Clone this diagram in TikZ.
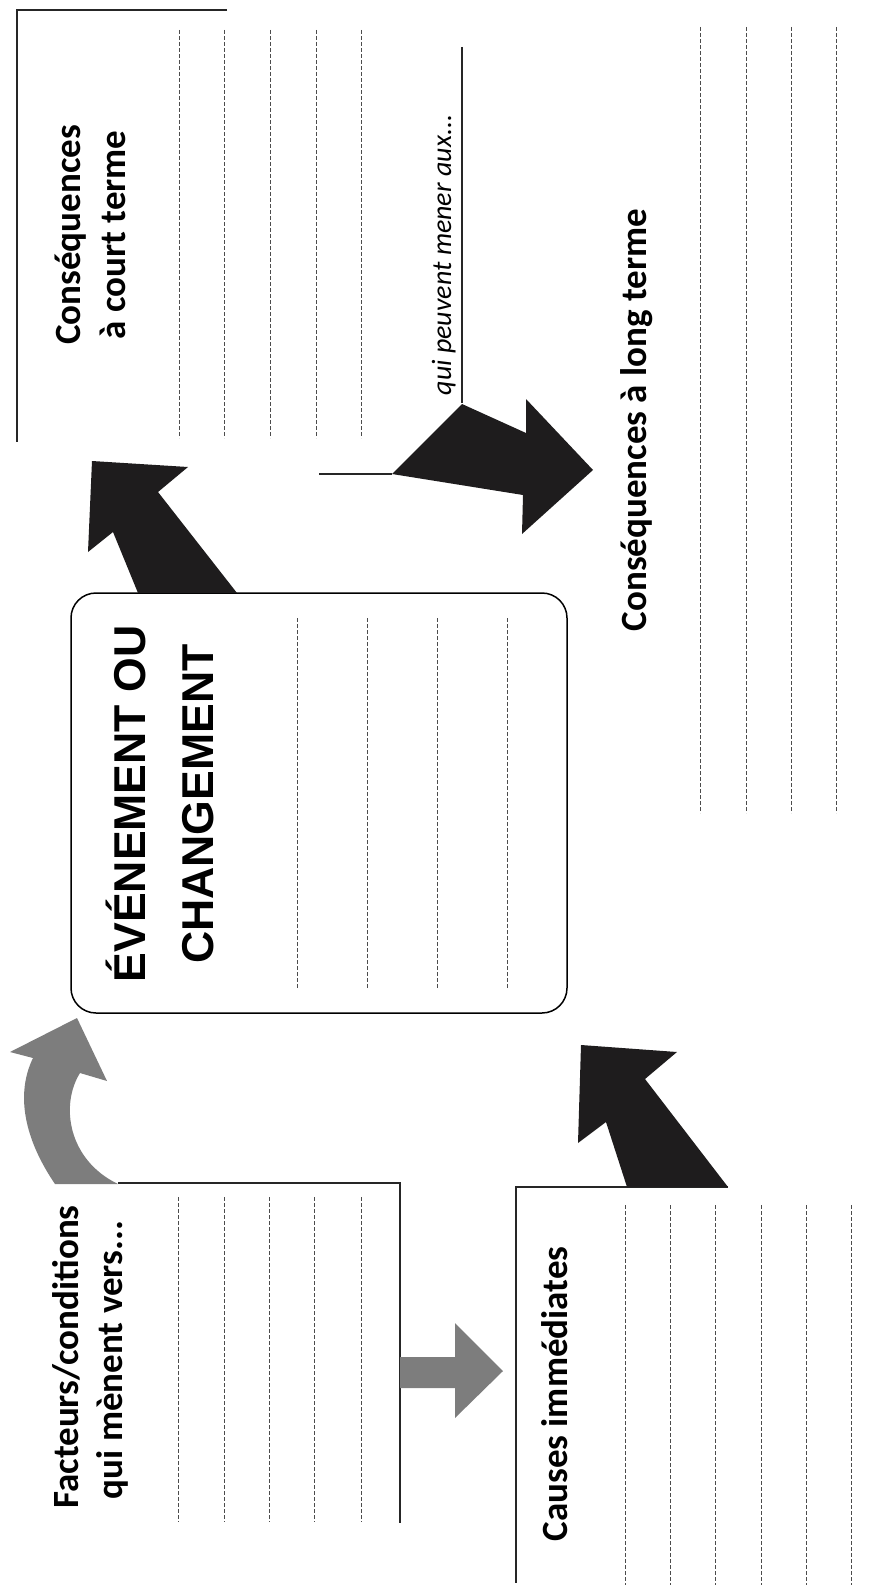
\documentclass[tikz,border=0pt]{standalone}
\usepackage{fontspec}
\setmainfont{Carlito}
\newfontfamily\eventfont{Liberation Sans}
\usetikzlibrary{positioning}
\definecolor{arrowgray}{RGB}{125,125,125}
\definecolor{arrowblack}{RGB}{30,28,29}

\begin{document}
\begin{tikzpicture}[x=0.5pt, y=-0.5pt,
    frame/.style={draw=black!85, line width=0.75pt},
    blank/.style={draw=black!70, line width=0.5pt, dash pattern=on 2pt off 1pt},
    heading/.style={rotate=90, anchor=base, inner sep=0pt, font=\fontsize{18.5}{22}\selectfont\bfseries},
    eventtitle/.style={rotate=90, anchor=base, inner sep=0pt, font=\eventfont\fontsize{22.3}{26}\selectfont\bfseries},
    note/.style={rotate=90, anchor=base, inner sep=0pt, font=\fontsize{14}{17}\selectfont\itshape}]
    \useasboundingbox (0,0) rectangle (878,1589);

    \node [draw, rectangle, rounded corners=12.5pt, line width=0.75pt, minimum width=248pt, minimum height=210pt] (event) at (319,803) {};
    \node [eventtitle] (ev1) at (145,804) {ÉVÉNEMENT OU};
    \node [eventtitle] (ev2) at (213,804) {CHANGEMENT};
    \foreach \x in {297,367,437,507} \draw [blank] (\x,618) -- (\x,988);

    \draw [frame] (227,10) -- (17,10) -- (17,442);
    \foreach \x in {179,224,270,316,361} \draw [blank] (\x,30) -- (\x,438);
    \node [heading] (ct1) at (80,235) {Conséquences};
    \node [heading] (ct2) at (125,235) {à court terme};

    \draw [frame] (462,47) -- (462,403);
    \draw [frame] (319,474) -- (392,474);
    \node [note] (qui) at (451,255) {qui peuvent mener aux...};

    \node [heading] (lt) at (646,420) {Conséquences à long terme};
    \foreach \x in {700,746,791,836} \draw [blank] (\x,27) -- (\x,813);

    \draw [frame] (118,1183) -- (400,1183) -- (400,1523);
    \foreach \x in {178,224,269,314,361} \draw [blank] (\x,1197) -- (\x,1522);
    \node [heading] (fac1) at (78,1357) {Facteurs/conditions};
    \node [heading] (fac2) at (122,1360) {qui mènent vers...};

    \draw [frame] (728,1187) -- (516,1187) -- (516,1583);
    \foreach \x in {625,670,715,761,806,851} \draw [blank] (\x,1205) -- (\x,1585);
    \node [heading] (causes) at (567,1394) {Causes immédiates};

    \fill [arrowblack] (138,593) -- (113,532) -- (88,552) -- (92,461) -- (188,467) -- (158,492) -- (237,593) -- cycle;
    \fill [arrowblack] (392,474) -- (462,404) -- (526,433) -- (526,399) -- (593,470) -- (522,534) -- (523,495) -- cycle;
    \fill [arrowblack] (627,1187) -- (606,1122) -- (578,1143) -- (581,1045) -- (677,1052) -- (645,1079) -- (728,1187) -- cycle;
    \fill [arrowgray] (55,1184) .. controls (25,1140) and (15,1095) .. (33,1058) -- (10,1052) -- (77,1018) -- (107,1081) -- (80,1073) .. controls (60,1105) and (68,1160) .. (118,1184) -- cycle;
    \fill [arrowgray] (400,1357) -- (455,1357) -- (455,1323) -- (503,1371) -- (455,1418) -- (455,1388) -- (400,1388) -- cycle;
\end{tikzpicture}
\end{document}
